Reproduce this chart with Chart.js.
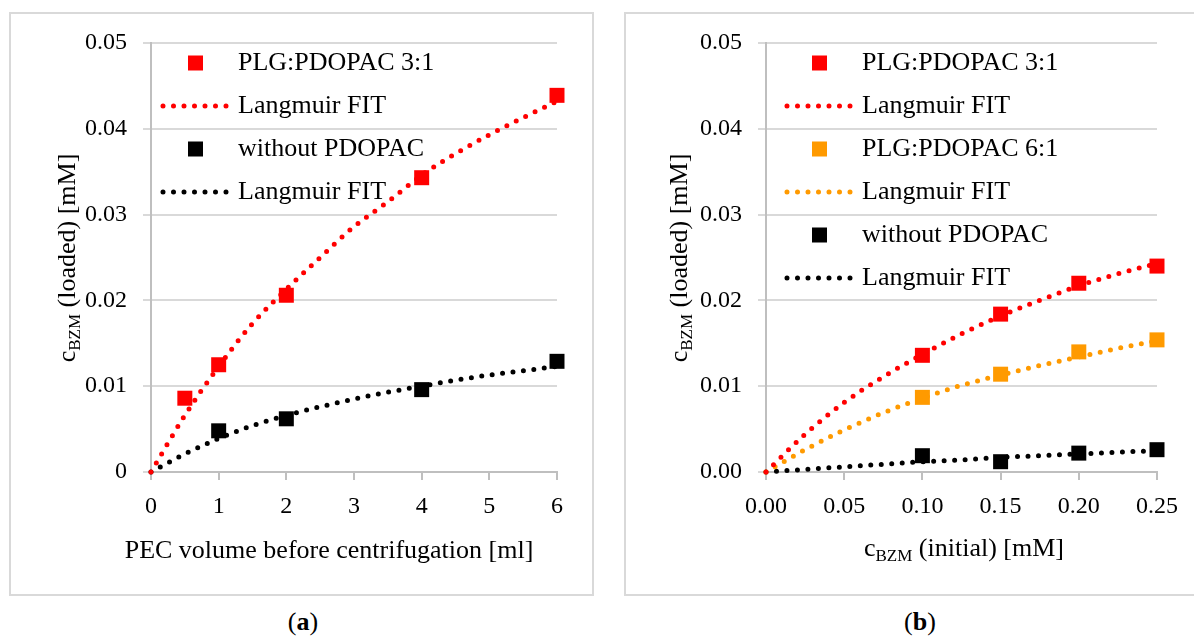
<!DOCTYPE html>
<html>
<head>
<meta charset="utf-8">
<script src="https://cdn.jsdelivr.net/npm/chart.js@4.4.1/dist/chart.umd.min.js"></script>
<style>
  body { margin: 0; background: #fff; width: 1194px; height: 637px; position: relative; overflow: hidden; font-family: 'Liberation Serif', serif; }
  .box { position: absolute; top: 12px; height: 584px; border: 2px solid #d9d9d9; box-sizing: border-box; }
  .cv { position: absolute; top: 0; width: 597px; height: 600px; }
  .cap { position: absolute; top: 607px; width: 60px; text-align: center; font-size: 26px; color: #000; }
</style>
</head>
<body>
<div class="box" style="left:9px;width:585px"></div>
<div class="box" style="left:624px;width:600px"></div>
<div class="cv" style="left:0"><canvas id="chartA"></canvas></div>
<div class="cv" style="left:597px"><canvas id="chartB"></canvas></div>
<div class="cap" style="left:273px">(<b>a</b>)</div>
<div class="cap" style="left:890px">(<b>b</b>)</div>
<script>
// (a) loaded BZM vs PEC volume
const volA = [0.5, 1, 2, 4, 6];
const loadedA31 = [0.0086, 0.0125, 0.0206, 0.0343, 0.0439];
const volA0 = [1, 2, 4, 6];
const loadedA0 = [0.0048, 0.0062, 0.0096, 0.0129];
const fitVolA = [0, 0.5, 1, 1.5, 2, 2.5, 3, 3.5, 4, 4.5, 5, 5.5, 6];
const fitA31 = [0, 0.0066, 0.0123, 0.0173, 0.0213, 0.0250, 0.0286, 0.0315, 0.0346, 0.0371, 0.0393, 0.0413, 0.0432];
const fitA0 = [0, 0.0021, 0.0039, 0.0054, 0.0066, 0.0076, 0.0085, 0.0093, 0.0100, 0.0107, 0.0113, 0.0118, 0.0123];
const xTicksA = ['0', '1', '2', '3', '4', '5', '6'];
const yTicksA = ['0', '0.01', '0.02', '0.03', '0.04', '0.05'];

// (b) loaded BZM vs initial BZM
const concB = [0.10, 0.15, 0.20, 0.25];
const loadedB31 = [0.0136, 0.0184, 0.0220, 0.0240];
const loadedB61 = [0.0087, 0.0114, 0.0140, 0.0154];
const loadedB0 = [0.0019, 0.0012, 0.0022, 0.0026];
const fitConcB = [0, 0.025, 0.05, 0.075, 0.10, 0.125, 0.15, 0.175, 0.20, 0.225, 0.25];
const fitB31 = [0, 0.0044, 0.0081, 0.0111, 0.0137, 0.0161, 0.0182, 0.0200, 0.0217, 0.0231, 0.0243];
const fitB61 = [0, 0.0026, 0.0049, 0.0069, 0.0086, 0.0101, 0.0113, 0.0124, 0.0134, 0.0144, 0.0153];
const fitB0 = [0, 0.0003, 0.0006, 0.0009, 0.0012, 0.0014, 0.0017, 0.0019, 0.0021, 0.0023, 0.0025];
const xTicksB = ['0.00', '0.05', '0.10', '0.15', '0.20', '0.25'];
const yTicksB = ['0.00', '0.01', '0.02', '0.03', '0.04', '0.05'];

// axis titles, [text, isSubscript]
const yTitle = [['c', false], ['BZM', true], [' (loaded) [mM]', false]];
const xTitleA = [['PEC volume before centrifugation [ml]', false]];
const xTitleB = [['c', false], ['BZM', true], [' (initial) [mM]', false]];

const FONT_FAMILY = "'Liberation Serif', serif";
const TICK_SIZE = 24;
const FONT_SIZE = 26;
const SUB_SIZE = 17;
const RED = '#ff0000', ORANGE = '#ff9a00', BLACK = '#000000';

const pts = (xs, ys) => xs.map((x, i) => ({ x: x, y: ys[i] }));

function markers(label, xs, ys, color) {
  return { label: label, data: pts(xs, ys), backgroundColor: color, borderColor: color,
    pointStyle: 'rect', pointRadius: 10.6, pointHoverRadius: 10.6, pointBorderWidth: 0,
    showLine: false, clip: false, order: 1 };
}
function fit(xs, ys, color) {
  return { label: 'Langmuir FIT', data: pts(xs, ys), borderColor: color, backgroundColor: color,
    borderWidth: 5, borderDash: [0, 10.5], borderCapStyle: 'round', pointRadius: 0,
    showLine: true, cubicInterpolationMode: 'monotone', clip: false, order: 0 };
}

// draws a title made of normal + subscript pieces, centred on (0,0)
function drawRich(ctx, parts) {
  let total = 0;
  const widths = parts.map(p => {
    ctx.font = (p[1] ? SUB_SIZE : FONT_SIZE) + 'px ' + FONT_FAMILY;
    const w = ctx.measureText(p[0]).width;
    total += w;
    return w;
  });
  let x = -total / 2;
  parts.forEach((p, i) => {
    ctx.font = (p[1] ? SUB_SIZE : FONT_SIZE) + 'px ' + FONT_FAMILY;
    ctx.fillText(p[0], x, p[1] ? 5 : 0);
    x += widths[i];
  });
}

const decor = {
  id: 'decor',
  afterDraw(chart, args, o) {
    const ctx = chart.ctx;
    ctx.save();
    // legend inside the plot
    chart.data.datasets.forEach((ds, i) => {
      const y = o.legendTop + i * o.legendStep;
      if (ds.showLine) {
        ctx.strokeStyle = ds.borderColor;
        ctx.lineWidth = ds.borderWidth;
        ctx.lineCap = 'round';
        ctx.setLineDash(ds.borderDash);
        ctx.beginPath();
        ctx.moveTo(o.legendX, y);
        ctx.lineTo(o.legendX + o.lineLen, y);
        ctx.stroke();
        ctx.setLineDash([]);
      } else {
        ctx.fillStyle = ds.backgroundColor;
        ctx.fillRect(o.legendX + o.lineLen / 2 - 7.5, y - 7.5, 15, 15);
      }
      ctx.fillStyle = '#000';
      ctx.font = FONT_SIZE + 'px ' + FONT_FAMILY;
      ctx.textBaseline = 'middle';
      ctx.textAlign = 'left';
      ctx.fillText(ds.label, o.legendX + o.textGap, y);
    });
    // axis titles
    ctx.fillStyle = '#000';
    ctx.textBaseline = 'alphabetic';
    ctx.textAlign = 'left';
    ctx.save();
    ctx.translate(o.xTitleX, o.xTitleY);
    drawRich(ctx, o.xTitle);
    ctx.restore();
    ctx.save();
    ctx.translate(o.yTitleX, o.yTitleY);
    ctx.rotate(-Math.PI / 2);
    drawRich(ctx, o.yTitle);
    ctx.restore();
    ctx.restore();
  }
};

function makeOptions(cfg) {
  return {
    responsive: true,
    maintainAspectRatio: false,
    animation: false,
    events: [],
    layout: { padding: { left: 0, top: 43, right: cfg.padRight, bottom: 0 } },
    plugins: { legend: { display: false }, tooltip: { enabled: false }, decor: cfg.decor },
    scales: {
      x: {
        type: 'linear', min: cfg.xMin, max: cfg.xMax,
        afterFit: s => { s.height = 128; },
        afterBuildTicks: s => { s.ticks = cfg.xTicks.map((t, i) => ({ value: cfg.xMin + i * cfg.xStep })); },
        grid: { drawOnChartArea: false, drawTicks: true, tickLength: 8, color: '#bfbfbf', lineWidth: 2 },
        border: { display: true, color: '#bfbfbf', width: 2 },
        ticks: { padding: 12, color: '#000', font: { family: FONT_FAMILY, size: TICK_SIZE },
          maxRotation: 0, autoSkip: false, callback: (v, i) => cfg.xTicks[i] }
      },
      y: {
        type: 'linear', min: 0, max: 0.05,
        afterFit: s => { s.width = cfg.yWidth; },
        afterBuildTicks: s => { s.ticks = cfg.yTicks.map((t, i) => ({ value: i * 0.01 })); },
        grid: { drawTicks: true, tickLength: 8, color: '#d9d9d9', lineWidth: 2 },
        border: { display: true, color: '#bfbfbf', width: 2 },
        ticks: { padding: 16, color: '#000', font: { family: FONT_FAMILY, size: TICK_SIZE },
          autoSkip: false, callback: (v, i) => cfg.yTicks[i] }
      }
    }
  };
}

new Chart(document.getElementById('chartA'), {
  type: 'scatter',
  data: {
    datasets: [
      markers('PLG:PDOPAC 3:1', volA, loadedA31, RED),
      fit(fitVolA, fitA31, RED),
      markers('without PDOPAC', volA0, loadedA0, BLACK),
      fit(fitVolA, fitA0, BLACK)
    ]
  },
  options: makeOptions({
    xMin: 0, xMax: 6, xStep: 1, xTicks: xTicksA, yTicks: yTicksA, yWidth: 151, padRight: 40,
    decor: { legendX: 163, lineLen: 65, textGap: 75, legendTop: 63, legendStep: 43,
      xTitle: xTitleA, xTitleX: 329, xTitleY: 558, yTitle: yTitle, yTitleX: 75, yTitleY: 258 }
  }),
  plugins: [decor]
});

new Chart(document.getElementById('chartB'), {
  type: 'scatter',
  data: {
    datasets: [
      markers('PLG:PDOPAC 3:1', concB, loadedB31, RED),
      fit(fitConcB, fitB31, RED),
      markers('PLG:PDOPAC 6:1', concB, loadedB61, ORANGE),
      fit(fitConcB, fitB61, ORANGE),
      markers('without PDOPAC', concB, loadedB0, BLACK),
      fit(fitConcB, fitB0, BLACK)
    ]
  },
  options: makeOptions({
    xMin: 0, xMax: 0.25, xStep: 0.05, xTicks: xTicksB, yTicks: yTicksB, yWidth: 169, padRight: 37,
    decor: { legendX: 190, lineLen: 65, textGap: 75, legendTop: 63, legendStep: 43,
      xTitle: xTitleB, xTitleX: 367, xTitleY: 556, yTitle: yTitle, yTitleX: 90, yTitleY: 258 }
  }),
  plugins: [decor]
});
</script>
</body>
</html>
